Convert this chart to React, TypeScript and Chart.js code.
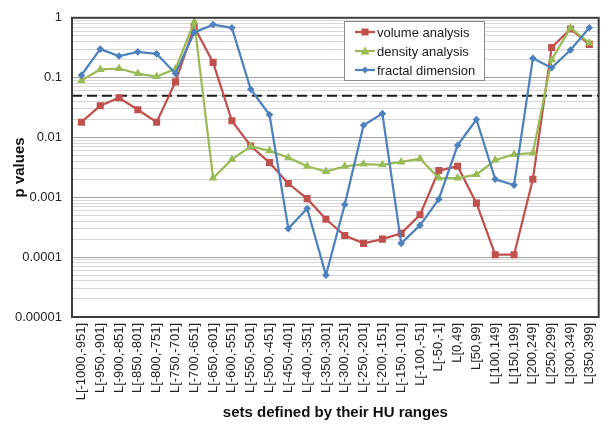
import React, { useEffect, useRef } from 'react';
import { Chart, registerables } from 'chart.js';

Chart.register(...registerables);

const categories = [
  'L[-1000,-951]', 'L[-950,-901]', 'L[-900,-851]', 'L[-850,-801]', 'L[-800,-751]',
  'L[-750,-701]', 'L[-700,-651]', 'L[-650,-601]', 'L[-600,-551]', 'L[-550,-501]',
  'L[-500,-451]', 'L[-450,-401]', 'L[-400,-351]', 'L[-350,-301]', 'L[-300,-251]',
  'L[-250,-201]', 'L[-200,-151]', 'L[-150,-101]', 'L[-100,-51]', 'L[-50,-1]',
  'L[0,49]', 'L[50,99]', 'L[100,149]', 'L[150,199]', 'L[200,249]',
  'L[250,299]', 'L[300,349]', 'L[350,399]',
];

const volumeAnalysis = [
  0.018, 0.034, 0.046, 0.029, 0.018, 0.085, 0.7, 0.18, 0.019, 0.0072,
  0.0038, 0.0017, 0.00095, 0.00043, 0.00023, 0.00017, 0.0002, 0.00025, 0.00051, 0.0028,
  0.0033, 0.0008, 0.00011, 0.00011, 0.002, 0.32, 0.65, 0.36,
];

const densityAnalysis = [
  0.09, 0.137, 0.142, 0.117, 0.104, 0.14, 0.85, 0.0021, 0.0043, 0.0071,
  0.006, 0.0046, 0.0033, 0.0027, 0.0033, 0.0036, 0.0035, 0.0039, 0.0044, 0.0021,
  0.0021, 0.0024, 0.0042, 0.0052, 0.0055, 0.2, 0.68, 0.38,
];

const fractalDimension = [
  0.11, 0.3, 0.23, 0.27, 0.25, 0.117, 0.57, 0.77, 0.68, 0.064,
  0.024, 0.0003, 0.00065, 0.00005, 0.00076, 0.016, 0.025, 0.00017, 0.00034, 0.00093,
  0.0074, 0.02, 0.002, 0.0016, 0.21, 0.146, 0.29, 0.68,
];

const seriesNames = ['volume analysis', 'density analysis', 'fractal dimension'];
const seriesColors = ['#C0504D', '#9BBB59', '#4F81BD'];
const seriesMarkers = ['rect', 'triangle', 'rectRot'];

const threshold = 0.05;
const yMin = 0.00001;
const yMax = 1;
const yTickLabels = ['0.00001', '0.0001', '0.001', '0.01', '0.1', '1'];
const xTitle = 'sets defined by their HU ranges';
const yTitle = 'p values';

const FONT = "'Liberation Sans', Arial, sans-serif";

function drawMarker(ctx: CanvasRenderingContext2D, kind: string, x: number, y: number, color: string) {
  ctx.save();
  ctx.fillStyle = color;
  ctx.beginPath();
  if (kind === 'rect') {
    ctx.rect(x - 3.5, y - 3.5, 7, 7);
  } else if (kind === 'triangle') {
    ctx.moveTo(x, y - 4.5);
    ctx.lineTo(x + 4.5, y + 3.5);
    ctx.lineTo(x - 4.5, y + 3.5);
    ctx.closePath();
  } else {
    ctx.moveTo(x, y - 3.5);
    ctx.lineTo(x + 3.5, y);
    ctx.lineTo(x, y + 3.5);
    ctx.lineTo(x - 3.5, y);
    ctx.closePath();
  }
  ctx.fill();
  ctx.restore();
}

const decorPlugin = {
  id: 'decor',
  beforeDatasetsDraw(chart: any) {
    const { ctx, chartArea } = chart;
    const y = chart.scales.y.getPixelForValue(threshold);
    ctx.save();
    ctx.strokeStyle = '#1a1a1a';
    ctx.lineWidth = 2;
    ctx.setLineDash([10, 5]);
    ctx.beginPath();
    ctx.moveTo(chartArea.left, y);
    ctx.lineTo(chartArea.right, y);
    ctx.stroke();
    ctx.restore();
  },
  afterDraw(chart: any) {
    const { ctx, chartArea } = chart;
    ctx.save();
    ctx.strokeStyle = '#3c3c3c';
    ctx.lineWidth = 2;
    ctx.strokeRect(chartArea.left, chartArea.top, chartArea.right - chartArea.left, chartArea.bottom - chartArea.top);
    ctx.restore();

    // legend box inside the plot
    const bx = 344, by = 21, bw = 140, bh = 59;
    ctx.save();
    ctx.fillStyle = '#ffffff';
    ctx.fillRect(bx, by, bw, bh);
    ctx.strokeStyle = '#8c8c8c';
    ctx.lineWidth = 1;
    ctx.strokeRect(bx + 0.5, by + 0.5, bw, bh);
    ctx.font = `13px ${FONT}`;
    ctx.textBaseline = 'middle';
    ctx.textAlign = 'left';
    seriesNames.forEach((name, i) => {
      const ry = by + 11 + i * 19;
      ctx.strokeStyle = seriesColors[i];
      ctx.lineWidth = 2.25;
      ctx.beginPath();
      ctx.moveTo(355, ry);
      ctx.lineTo(375, ry);
      ctx.stroke();
      drawMarker(ctx, seriesMarkers[i], 365, ry, seriesColors[i]);
      ctx.fillStyle = '#1a1a1a';
      ctx.fillText(name, 377, ry + 1);
    });
    ctx.restore();
  },
};

function isDecade(v: number) {
  const e = Math.log10(v);
  return Math.abs(e - Math.round(e)) < 1e-6;
}

export default function App() {
  const canvasRef = useRef<HTMLCanvasElement | null>(null);

  useEffect(() => {
    if (!canvasRef.current) return;
    const seriesData = [volumeAnalysis, densityAnalysis, fractalDimension];
    const radii = [5, 5, 3.8];
    const chart = new Chart(canvasRef.current, {
      type: 'line',
      data: {
        labels: categories,
        datasets: seriesNames.map((name, i) => ({
          label: name,
          data: seriesData[i],
          borderColor: seriesColors[i],
          backgroundColor: seriesColors[i],
          pointBackgroundColor: seriesColors[i],
          pointBorderColor: seriesColors[i],
          pointBorderWidth: 0,
          pointStyle: seriesMarkers[i] as any,
          pointRadius: radii[i],
          borderWidth: 2.25,
          tension: 0,
          fill: false,
          order: 3 - i,
        })),
      },
      options: {
        animation: false,
        responsive: true,
        maintainAspectRatio: false,
        layout: { padding: { left: 0, right: 6, top: 14, bottom: 0 } },
        plugins: {
          legend: { display: false },
          tooltip: { enabled: false },
        },
        scales: {
          x: {
            type: 'category',
            offset: true,
            grid: { display: false, drawTicks: false },
            border: { display: false },
            ticks: {
              autoSkip: false,
              maxRotation: 90,
              minRotation: 90,
              padding: 6,
              color: '#222',
              font: { family: FONT, size: 13 },
            },
            title: {
              display: true,
              text: xTitle,
              color: '#111',
              font: { family: FONT, size: 15, weight: 'bold' },
              padding: { top: 4, bottom: 5 },
            },
            afterFit: (scale: any) => {
              scale.height = 110;
            },
          },
          y: {
            type: 'logarithmic',
            min: yMin,
            max: yMax,
            border: { display: false },
            grid: {
              drawTicks: false,
              lineWidth: 1,
              color: (c: any) => {
                const v = c.tick ? c.tick.value : 0;
                return v && isDecade(v) ? '#a3a3a3' : '#d6d6d6';
              },
            },
            afterBuildTicks: (scale: any) => {
              const t: any[] = [];
              for (let e = -5; e <= 0; e++) {
                for (let m = 1; m <= 9; m++) {
                  const v = m * Math.pow(10, e);
                  if (v > yMax * 1.0000001) break;
                  t.push({ value: v, major: m === 1 });
                }
              }
              scale.ticks = t;
            },
            ticks: {
              autoSkip: false,
              padding: 10,
              color: '#222',
              font: { family: FONT, size: 13 },
              callback: (value: any) => {
                const v = Number(value);
                if (isDecade(v)) return yTickLabels[Math.round(Math.log10(v)) + 5];
                return '';
              },
            },
            title: {
              display: true,
              text: yTitle,
              color: '#111',
              font: { family: FONT, size: 15, weight: 'bold' },
              padding: { top: 11, bottom: 0 },
            },
            afterFit: (scale: any) => {
              scale.width = 72;
            },
          },
        },
      },
      plugins: [decorPlugin],
    });
    return () => chart.destroy();
  }, []);

  return (
    <div style={{ position: 'fixed', left: 0, top: 0, width: 611, height: 427, background: '#fff' }}>
      <canvas ref={canvasRef} />
    </div>
  );
}
